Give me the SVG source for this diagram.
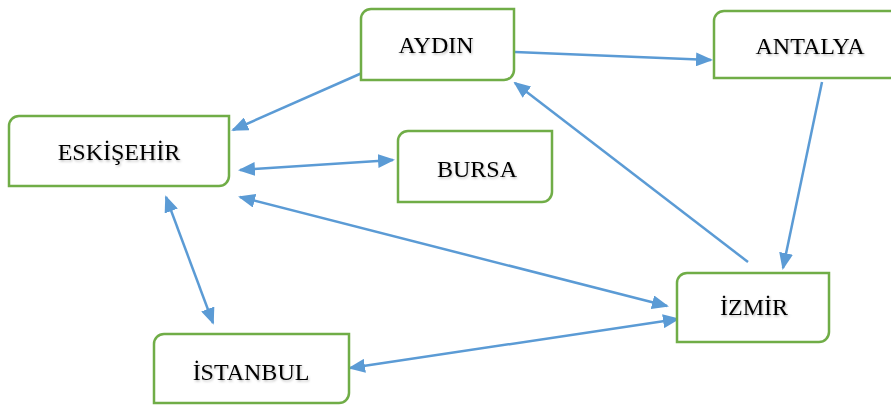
<svg xmlns="http://www.w3.org/2000/svg" width="891" height="405" viewBox="0 0 891 405">
<style>
.box{fill:#ffffff;stroke:#70AD47;stroke-width:2.5}
.lbl{font-family:"Liberation Serif","Times New Roman",serif;font-size:24px;fill:#000;text-anchor:middle;filter:url(#sh)}
.con{stroke:#5B9BD5;stroke-width:2.5;fill:none}
.one{marker-end:url(#ah)}
.two{marker-start:url(#ah);marker-end:url(#ah)}
</style>
<defs>
<marker id="ah" markerUnits="userSpaceOnUse" markerWidth="17" markerHeight="14" viewBox="0 0 17 14" refX="15" refY="7" orient="auto-start-reverse">
<path d="M0,0 L17,7 L0,14 z" fill="#5B9BD5"/>
</marker>
<filter id="sh" x="-10%" y="-20%" width="120%" height="150%">
<feDropShadow dx="1" dy="1.5" stdDeviation="0.8" flood-color="#000" flood-opacity="0.25"/>
</filter>
</defs>
<rect width="891" height="405" fill="#ffffff"/>
<g id="connectors">
<path class="con one" d="M362,73 L233,130"/>
<path class="con one" d="M515,52 L711,60"/>
<path class="con two" d="M240,170 L393,160"/>
<path class="con two" d="M166,197 L213,323"/>
<path class="con two" d="M240,197 L667,306"/>
<path class="con one" d="M748,262 L515,83"/>
<path class="con one" d="M822,82 L783,268"/>
<path class="con two" d="M350,368 L678,319"/>
</g>
<g id="aydin">
<path class="box" d="M361,19 A10,10 0 0 1 371,9 H514 V70 A10,10 0 0 1 504,80 H361 Z"/>
<text class="lbl" x="436" y="53">AYDIN</text>
</g>
<g id="antalya">
<path class="box" d="M714,21 A10,10 0 0 1 724,11 H906 V68 A10,10 0 0 1 896,78 H714 Z"/>
<text class="lbl" x="810" y="54">ANTALYA</text>
</g>
<g id="eskisehir">
<path class="box" d="M9,126 A10,10 0 0 1 19,116 H229 V176 A10,10 0 0 1 219,186 H9 Z"/>
<text class="lbl" x="119" y="160">ESKİŞEHİR</text>
</g>
<g id="bursa">
<path class="box" d="M398,141 A10,10 0 0 1 408,131 H552 V192 A10,10 0 0 1 542,202 H398 Z"/>
<text class="lbl" x="477" y="177">BURSA</text>
</g>
<g id="izmir">
<path class="box" d="M677,283 A10,10 0 0 1 687,273 H829 V332 A10,10 0 0 1 819,342 H677 Z"/>
<text class="lbl" x="754" y="315">İZMİR</text>
</g>
<g id="istanbul">
<path class="box" d="M154,344 A10,10 0 0 1 164,334 H349 V393 A10,10 0 0 1 339,403 H154 Z"/>
<text class="lbl" x="251" y="380">İSTANBUL</text>
</g>
</svg>
